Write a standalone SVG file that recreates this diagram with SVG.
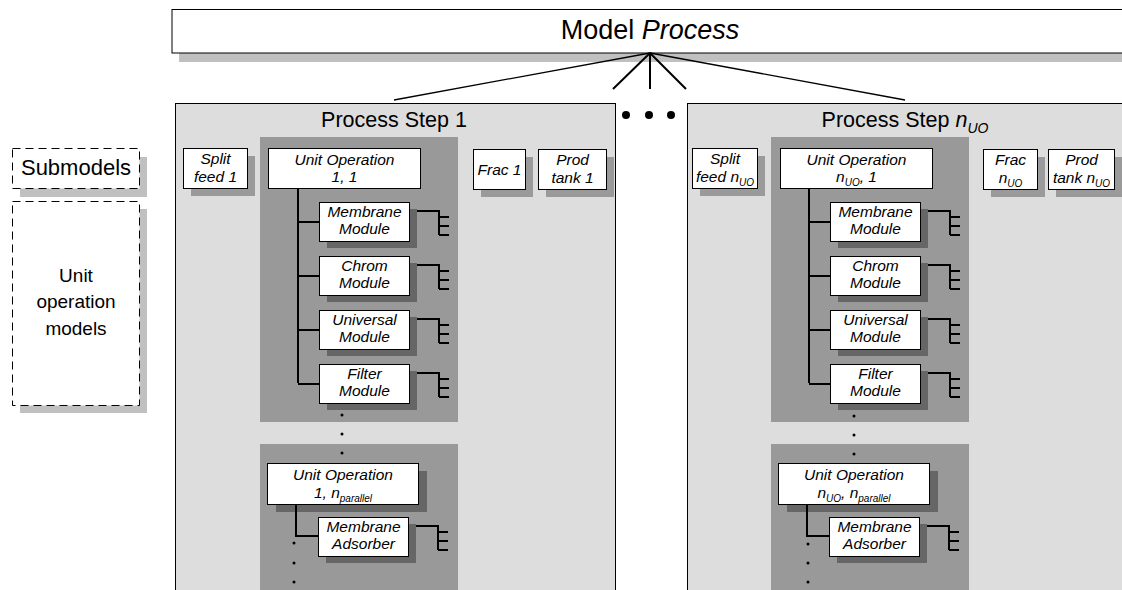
<svg xmlns="http://www.w3.org/2000/svg" width="1122" height="590" viewBox="0 0 1122 590">
<style>
text{font-family:"Liberation Sans",Arial,sans-serif;text-anchor:middle;fill:#000}
.it{font-style:italic;font-size:15.5px}
.box{fill:#fff;stroke:#000;stroke-width:1}
.dash{fill:#fff;stroke:#000;stroke-width:1;stroke-dasharray:8 5}
.shw{fill:#c0c0c0}
.shl{fill:#9a9a9a}
.shd{fill:#666}
.panel{fill:#ddd;stroke:#000;stroke-width:1}
.grp{fill:#999}
.ln{fill:none;stroke:#000;stroke-width:2}
.thin{fill:none;stroke:#000;stroke-width:1.3}
.dot{fill:#000}
.sub{font-size:10px}
</style>
<defs>
<g id="comb"><path class="ln" d="M0 9H22V33M22 15H32M22 24H32M22 33H32"/></g>
</defs>

<!-- Model Process -->
<g id="model-process">
<rect class="shw" x="179" y="18" width="960" height="44"/>
<rect class="box" x="172" y="9.5" width="960" height="43.5"/>
<text x="650" y="39" font-size="27">Model <tspan font-style="italic">Process</tspan></text>
</g>

<!-- Legend -->
<g id="legend-submodels">
<rect class="shw" x="20" y="157" width="127" height="40"/>
<rect class="dash" x="12.5" y="148.5" width="127" height="40"/>
<text x="76" y="175" font-size="22">Submodels</text>
</g>
<g id="legend-unit-operation-models">
<rect class="shw" x="20" y="209" width="127" height="204"/>
<rect class="dash" x="12.5" y="201.5" width="127" height="204"/>
<text x="76" y="282" font-size="19">Unit</text>
<text x="76" y="308" font-size="19">operation</text>
<text x="76" y="335" font-size="19">models</text>
</g>

<!-- Panel 1 -->
<g id="process-step-1">
<rect class="panel" x="175.5" y="103.5" width="440" height="500"/>
<text x="394" y="127" font-size="21.5">Process Step 1</text>
</g>
<g id="uo-group-1-1"><rect class="grp" x="260" y="137" width="198" height="285"/></g>
<g id="uo-group-1-n"><rect class="grp" x="260" y="444" width="198" height="160"/></g>

<g id="split-feed-1">
<rect class="shl" x="191" y="156" width="64" height="40"/>
<rect class="box" x="183.5" y="148.5" width="64" height="40"/>
<text class="it" x="215.5" y="164">Split</text>
<text class="it" x="215.5" y="182">feed 1</text>
</g>
<g id="unit-operation-1-1">
<rect class="box" x="268.5" y="148.5" width="152" height="40"/>
<text class="it" x="344.5" y="165">Unit Operation</text>
<text class="it" x="344.5" y="182">1, 1</text>
</g>
<g id="membrane-module-1">
<rect class="shd" x="327" y="209" width="90" height="39"/>
<rect class="box" x="319.5" y="202.5" width="90" height="39"/>
<text class="it" x="364.5" y="217">Membrane</text>
<text class="it" x="364.5" y="234">Module</text>
</g>
<g id="chrom-module-1">
<rect class="shd" x="327" y="263" width="90" height="39"/>
<rect class="box" x="319.5" y="256.5" width="90" height="39"/>
<text class="it" x="364.5" y="271">Chrom</text>
<text class="it" x="364.5" y="288">Module</text>
</g>
<g id="universal-module-1">
<rect class="shd" x="327" y="317" width="90" height="39"/>
<rect class="box" x="319.5" y="310.5" width="90" height="39"/>
<text class="it" x="364.5" y="325">Universal</text>
<text class="it" x="364.5" y="342">Module</text>
</g>
<g id="filter-module-1">
<rect class="shd" x="327" y="371" width="90" height="39"/>
<rect class="box" x="319.5" y="364.5" width="90" height="39"/>
<text class="it" x="364.5" y="379">Filter</text>
<text class="it" x="364.5" y="396">Module</text>
</g>
<g id="unit-operation-1-n">
<rect class="shd" x="276" y="471" width="151" height="41"/>
<rect class="box" x="267.5" y="463.5" width="151" height="41"/>
<text class="it" x="343" y="480">Unit Operation</text>
<text class="it" x="343" y="498">1, n<tspan class="sub" dy="4">parallel</tspan></text>
</g>
<g id="membrane-adsorber-1">
<rect class="shd" x="326" y="524" width="90" height="39"/>
<rect class="box" x="318.5" y="517.5" width="90" height="39"/>
<text class="it" x="363.5" y="532">Membrane</text>
<text class="it" x="363.5" y="549">Adsorber</text>
</g>
<g id="frac-1">
<rect class="shl" x="481" y="157" width="52" height="40"/>
<rect class="box" x="473.5" y="149.5" width="52" height="40"/>
<text class="it" x="499.5" y="175">Frac 1</text>
</g>
<g id="prod-tank-1">
<rect class="shl" x="546" y="157" width="68" height="40"/>
<rect class="box" x="538.5" y="149.5" width="68" height="40"/>
<text class="it" x="572.5" y="165">Prod</text>
<text class="it" x="572.5" y="183">tank 1</text>
</g>

<!-- Panel 2 -->
<g id="process-step-n">
<rect class="panel" x="687.5" y="103.5" width="460" height="500"/>
<text x="905" y="127" font-size="21.5">Process Step <tspan font-style="italic">n</tspan><tspan font-style="italic" font-size="14" dy="6">UO</tspan></text>
</g>
<g id="uo-group-n-1"><rect class="grp" x="771" y="137" width="198" height="285"/></g>
<g id="uo-group-n-n"><rect class="grp" x="771" y="444" width="198" height="160"/></g>

<g id="split-feed-n">
<rect class="shl" x="700" y="156" width="65" height="40"/>
<rect class="box" x="692.5" y="148.5" width="65" height="40"/>
<text class="it" x="725" y="164">Split</text>
<text class="it" x="725" y="182">feed n<tspan class="sub" dy="4">UO</tspan></text>
</g>
<g id="unit-operation-n-1">
<rect class="box" x="780.5" y="148.5" width="152" height="40"/>
<text class="it" x="856.5" y="165">Unit Operation</text>
<text class="it" x="856.5" y="182">n<tspan class="sub" dy="4">UO</tspan><tspan dy="-4">, 1</tspan></text>
</g>
<g id="membrane-module-n" transform="translate(511,0)">
<rect class="shd" x="327" y="209" width="90" height="39"/>
<rect class="box" x="319.5" y="202.5" width="90" height="39"/>
<text class="it" x="364.5" y="217">Membrane</text>
<text class="it" x="364.5" y="234">Module</text>
</g>
<g id="chrom-module-n" transform="translate(511,0)">
<rect class="shd" x="327" y="263" width="90" height="39"/>
<rect class="box" x="319.5" y="256.5" width="90" height="39"/>
<text class="it" x="364.5" y="271">Chrom</text>
<text class="it" x="364.5" y="288">Module</text>
</g>
<g id="universal-module-n" transform="translate(511,0)">
<rect class="shd" x="327" y="317" width="90" height="39"/>
<rect class="box" x="319.5" y="310.5" width="90" height="39"/>
<text class="it" x="364.5" y="325">Universal</text>
<text class="it" x="364.5" y="342">Module</text>
</g>
<g id="filter-module-n" transform="translate(511,0)">
<rect class="shd" x="327" y="371" width="90" height="39"/>
<rect class="box" x="319.5" y="364.5" width="90" height="39"/>
<text class="it" x="364.5" y="379">Filter</text>
<text class="it" x="364.5" y="396">Module</text>
</g>
<g id="unit-operation-n-n" transform="translate(511,0)">
<rect class="shd" x="276" y="471" width="151" height="41"/>
<rect class="box" x="267.5" y="463.5" width="151" height="41"/>
<text class="it" x="343" y="480">Unit Operation</text>
<text class="it" x="343" y="498">n<tspan class="sub" dy="4">UO</tspan><tspan dy="-4">, n</tspan><tspan class="sub" dy="4">parallel</tspan></text>
</g>
<g id="membrane-adsorber-n" transform="translate(511,0)">
<rect class="shd" x="326" y="524" width="90" height="39"/>
<rect class="box" x="318.5" y="517.5" width="90" height="39"/>
<text class="it" x="363.5" y="532">Membrane</text>
<text class="it" x="363.5" y="549">Adsorber</text>
</g>
<g id="frac-n">
<rect class="shl" x="991" y="157" width="54" height="40"/>
<rect class="box" x="983.5" y="149.5" width="54" height="40"/>
<text class="it" x="1010.5" y="165">Frac</text>
<text class="it" x="1010.5" y="183">n<tspan class="sub" dy="4">UO</tspan></text>
</g>
<g id="prod-tank-n">
<rect class="shl" x="1056" y="157" width="66" height="40"/>
<rect class="box" x="1048.5" y="149.5" width="66" height="40"/>
<text class="it" x="1081.5" y="165">Prod</text>
<text class="it" x="1081.5" y="183">tank n<tspan class="sub" dy="4">UO</tspan></text>
</g>

<!-- Connectors -->
<g id="connectors">
<path class="thin" d="M650 53L394 100M650 53L905 100"/>
<path class="ln" d="M650 53L613 89M650 53V89M650 53L686 89"/>
<circle class="dot" cx="626" cy="115" r="4"/>
<circle class="dot" cx="649" cy="115" r="4"/>
<circle class="dot" cx="671" cy="115" r="4"/>
<g id="tree-1">
<path class="ln" d="M298 188V383M298 222H319M298 276H319M298 330H319M298 384H319"/>
<use href="#comb" x="417" y="202"/>
<use href="#comb" x="417" y="256"/>
<use href="#comb" x="417" y="310"/>
<use href="#comb" x="417" y="364"/>
<path class="ln" d="M296 504V536H318"/>
<use href="#comb" x="416" y="517"/>
<circle class="dot" cx="342" cy="415" r="1.5"/>
<circle class="dot" cx="342" cy="434" r="1.5"/>
<circle class="dot" cx="342" cy="453" r="1.5"/>
<circle class="dot" cx="294" cy="543" r="1.5"/>
<circle class="dot" cx="294" cy="563" r="1.5"/>
<circle class="dot" cx="294" cy="582" r="1.5"/>
</g>
<g id="tree-n" transform="translate(511,0)">
<path class="ln" d="M298 188V383M298 222H319M298 276H319M298 330H319M298 384H319"/>
<use href="#comb" x="417" y="202"/>
<use href="#comb" x="417" y="256"/>
<use href="#comb" x="417" y="310"/>
<use href="#comb" x="417" y="364"/>
<path class="ln" d="M296 504V536H318"/>
<use href="#comb" x="416" y="517"/>
<circle class="dot" cx="343" cy="416" r="1.5"/>
<circle class="dot" cx="343" cy="435" r="1.5"/>
<circle class="dot" cx="343" cy="454" r="1.5"/>
<circle class="dot" cx="297" cy="544" r="1.5"/>
<circle class="dot" cx="297" cy="563" r="1.5"/>
<circle class="dot" cx="297" cy="582" r="1.5"/>
</g>
</g>
</svg>
